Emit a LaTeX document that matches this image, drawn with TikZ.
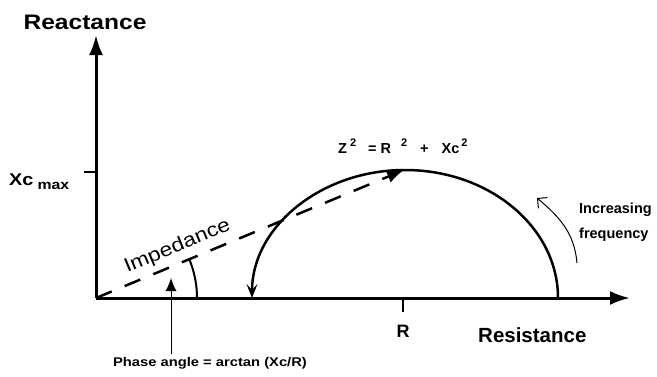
\documentclass[tikz,border=0pt]{standalone}
\usepackage{fontspec}
\setmainfont{Liberation Sans}
\newfontfamily\widesans[FakeStretch=1.17]{Liberation Sans}
\usetikzlibrary{arrows.meta}
\newcommand\sqr{\raisebox{7pt}{\fontsize{11}{11}\selectfont 2}}

\begin{document}
\begin{tikzpicture}[x=1pt,y=1pt,>=Latex,
 ax/.style={line width=3pt,-{Latex[length=20pt,width=14pt]}},
 tk/.style={line width=2.5pt},
 lbl/.style={inner sep=0pt,font=\bfseries},
 thinarr/.style={line width=1pt}]
\useasboundingbox (0,0) rectangle (657,376);
\coordinate (O) at (96,78);
\coordinate (ytop) at (96,341);
\coordinate (xend) at (630,78);
\coordinate (xcmax) at (84,204);
\coordinate (rtick) at (403,64);
\coordinate (arcR) at (558,78);
\coordinate (arcTop) at (404,206);
\coordinate (angR) at (197,78);
\coordinate (phtip) at (171,98);
\coordinate (fa) at (577,113);
\coordinate (fb) at (537,178);
\draw[ax] (O) -- (ytop);
\draw[ax] (O) -- (xend);
\draw[tk] (xcmax) -- (xcmax -| O);
\draw[tk] (rtick) -- (rtick |- O);
\draw[line width=2.5pt,-{Stealth[length=14pt,width=11pt,inset=6pt]}] (arcR)
 arc[start angle=0,end angle=180,x radius=153pt,y radius=128pt];
\draw[line width=2.5pt,dash pattern=on 17pt off 14pt,-{Latex[length=17pt,width=13pt]}] (O) --
 node[pos=.285,sloped,above=3pt,inner sep=3pt,font=\widesans\fontsize{19.5}{20}\selectfont] (imp) {Impedance} (arcTop);
\draw[line width=2pt] (angR) arc[start angle=0,end angle=23,radius=101pt];
\node[lbl,anchor=base,inner sep=3pt,font=\widesans\bfseries\fontsize{12.6}{14}\selectfont] (phase) at (210,10) {Phase angle = arctan (Xc/R)};
\draw[thinarr,-{Latex[length=13pt,width=11pt]}] (phtip |- phase.north) -- (phtip);
\node[lbl,anchor=base,font=\widesans\bfseries\fontsize{21}{21}\selectfont] (yl) at (85,346) {Reactance};
\node[lbl,anchor=base west,font=\widesans\bfseries\fontsize{17}{17}\selectfont] (xcl) at (9,191)
 {Xc\hspace{4pt}\raisebox{-4pt}{\fontsize{13.5}{14}\selectfont max}};
\node[lbl,anchor=base west,font=\bfseries\fontsize{14.5}{15}\selectfont] (zeq) at (338,223)
 {Z\hspace{3pt}\sqr\hspace{12pt}=\hspace{4pt}R\hspace{10pt}\sqr\hspace{13pt}+\hspace{13pt}Xc\hspace{2pt}\sqr};
\node[lbl,anchor=north west,align=left,font=\bfseries\fontsize{14.5}{25}\selectfont] (freq) at (579,173) {Increasing\\frequency};
\draw[thinarr,-{Straight Barb[length=7pt,width=14pt]}] (fa) to[out=95,in=-40] (fb);
\node[lbl,anchor=base,font=\bfseries\fontsize{18}{18}\selectfont] (rl) at (403,39) {R};
\node[lbl,anchor=base west,font=\bfseries\fontsize{20.5}{21}\selectfont] (xl) at (478,34) {Resistance};
\end{tikzpicture}
\end{document}
